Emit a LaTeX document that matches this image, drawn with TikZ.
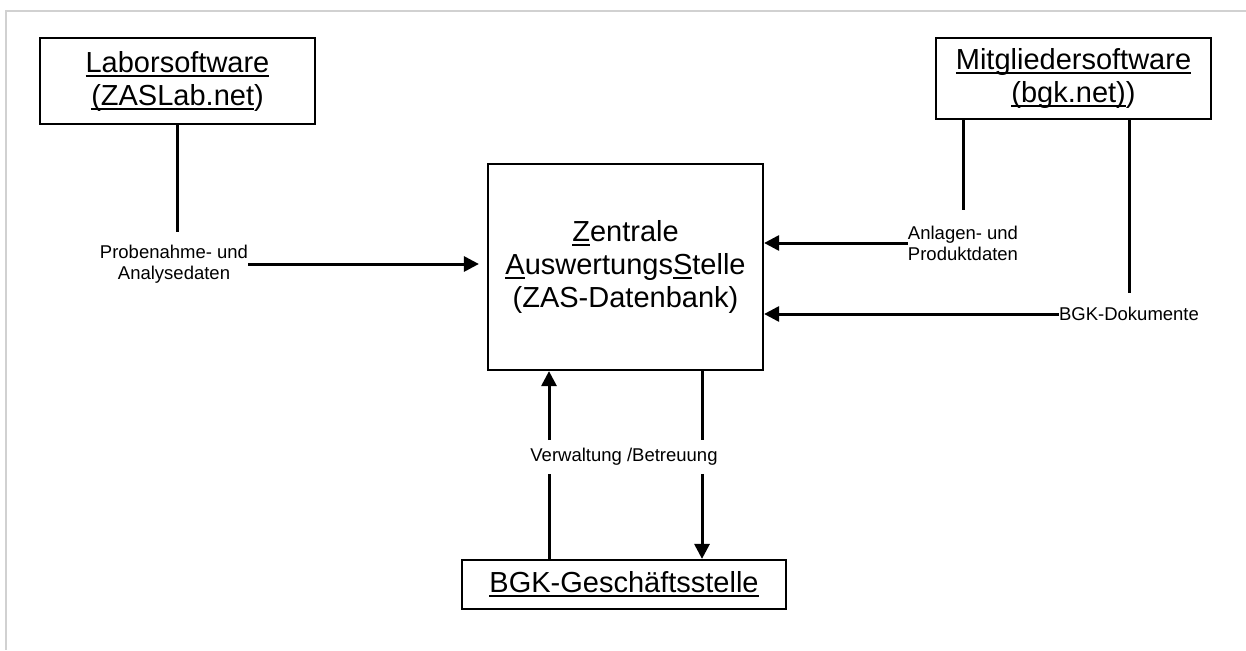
\documentclass[tikz,border=0pt]{standalone}
\usepackage{fontspec}
\setmainfont{Liberation Sans}
\usetikzlibrary{arrows.meta, positioning}
\newcommand{\ulin}[1]{\setbox0\hbox{#1}\rlap{\rule[-4.5pt]{\wd0}{2pt}}\box0}

\begin{document}
\begin{tikzpicture}[x=1pt, y=-1pt,
    box/.style={draw, line width=2.2pt, align=center, inner sep=0pt, font=\fontsize{29}{33}\selectfont},
    lbl/.style={align=center, inner sep=0pt, font=\fontsize{18.5}{21}\selectfont},
    stub/.style={line width=3pt},
    flow/.style={line width=3pt, -{Triangle[length=15pt, width=15pt]}}]

    \useasboundingbox (0,0) rectangle (1246,650);
    \draw[black!18, line width=2pt] (1246,11) -- (6,11) -- (6,650);

    \node[box, minimum width=275pt, minimum height=206pt] (zas) at (625.5,267)
        {\ulin{Z}entrale\\\ulin{A}uswertungs\ulin{S}telle\\(ZAS-Datenbank)};
    \node[box, minimum width=275pt, minimum height=86pt] (labor) at (177.5,81)
        {\ulin{Laborsoftware}\\\ulin{(ZASLab.net})};
    \node[box, minimum width=275pt, minimum height=81pt] (mitglied) at (1073.5,78.5)
        {\ulin{Mitgliedersoftware}\\\ulin{(bgk.net)})};
    \node[box, minimum width=324pt, minimum height=49pt] (bgk) at (624,584.5)
        {\ulin{BGK-Geschäftsstelle}};

    \node[lbl] (probe)   at (174,264)  {Probenahme- und\\Analysedaten};
    \node[lbl] (anlagen) at (963,243)  {Anlagen- und\\Produktdaten};
    \node[lbl] (dok)     at (1129,314) {BGK-Dokumente};
    \node[lbl, inner ysep=8pt] (verw) at (624,457) {Verwaltung /Betreuung};

    \coordinate (up)   at (549,457);
    \coordinate (down) at (702,457);

    \draw[stub, shorten >=13pt] (labor.south) -- (labor.south |- probe.north);
    \draw[flow, shorten >=8pt] (probe.east) -- (zas.west |- probe.east);

    \draw[stub, shorten >=16pt] (anlagen.north |- mitglied.south) -- (anlagen.north);
    \draw[flow] (anlagen.west) -- (zas.east |- anlagen.west);
    \draw[stub, shorten >=14pt] (dok.north |- mitglied.south) -- (dok.north);
    \draw[flow] (dok.west) -- (zas.east |- dok.west);

    \draw[stub] (bgk.north -| up) -- (verw.south -| up);
    \draw[flow] (verw.north -| up) -- (zas.south -| up);
    \draw[stub] (zas.south -| down) -- (verw.north -| down);
    \draw[flow] (verw.south -| down) -- (bgk.north -| down);
\end{tikzpicture}
\end{document}
